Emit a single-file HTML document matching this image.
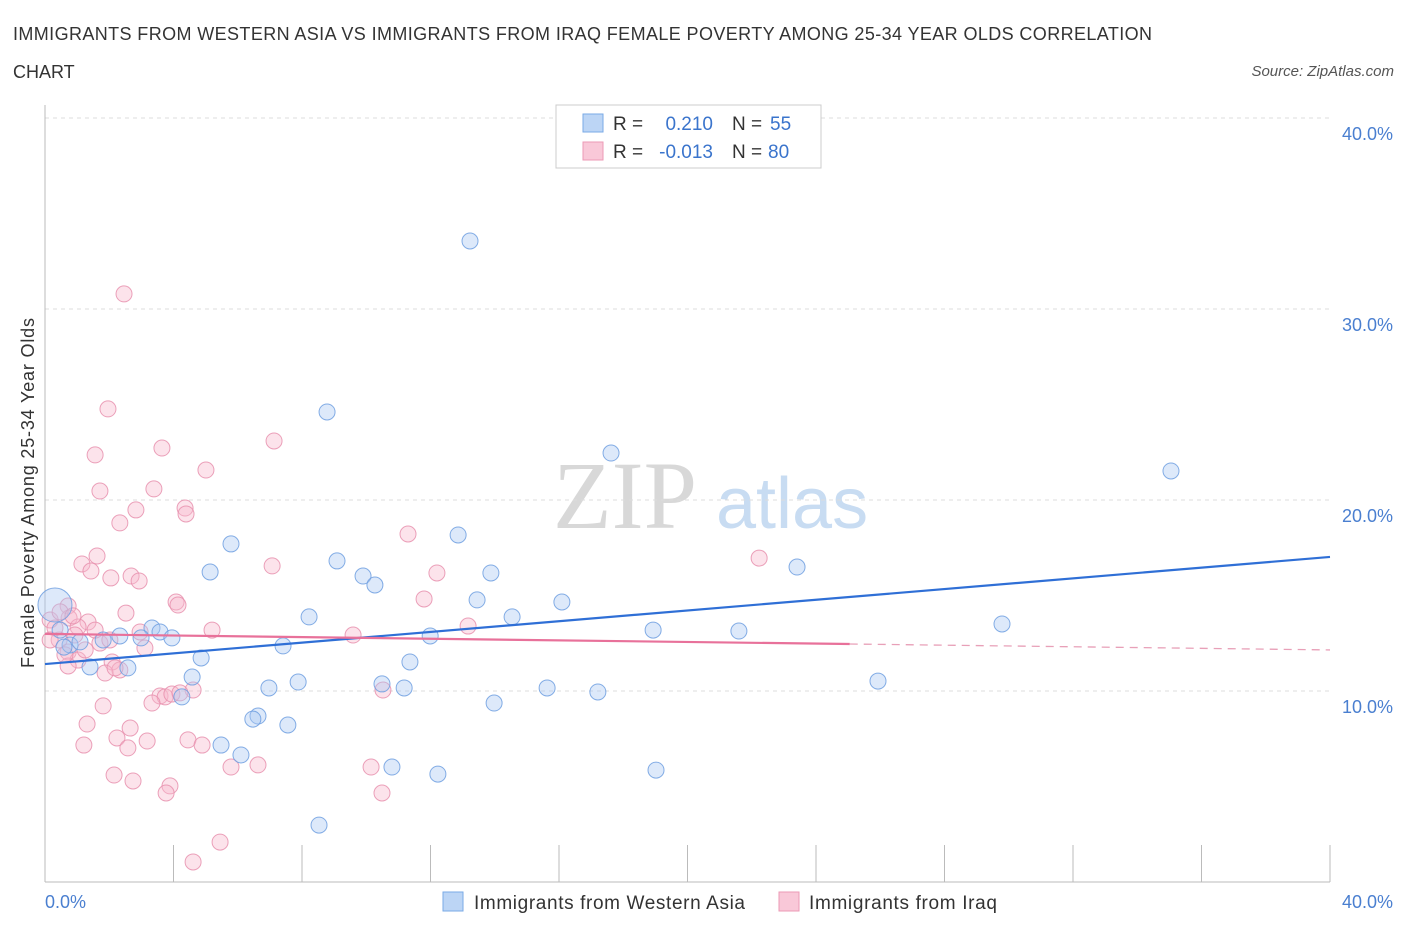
<!DOCTYPE html>
<html><head><meta charset="utf-8"><style>
body{margin:0;background:#fff;font-family:"Liberation Sans",sans-serif;}
svg{display:block}
</style></head><body>
<svg id="chart" width="1406" height="930" xmlns="http://www.w3.org/2000/svg">
<text x="13" y="40" font-size="18" fill="#333" textLength="1139" lengthAdjust="spacing">IMMIGRANTS FROM WESTERN ASIA VS IMMIGRANTS FROM IRAQ FEMALE POVERTY AMONG 25-34 YEAR OLDS CORRELATION</text>
<text x="13" y="78" font-size="18" fill="#333">CHART</text>
<text x="1394" y="76" font-size="15" fill="#555" font-style="italic" text-anchor="end">Source: ZipAtlas.com</text>
<g>
<text x="553" y="528" font-size="96" font-family="Liberation Serif,serif" fill="#d8d8d8">ZIP</text>
<text x="716" y="528" font-size="72" fill="#c8dcf2">atlas</text>
</g>
<g id="grid"></g>
<g id="axes"></g>
<g id="trends"></g>
<g id="pts"></g>
<text x="28" y="493" font-size="18" fill="#333" transform="rotate(-90 28 493)" text-anchor="middle" dy="6" textLength="350" lengthAdjust="spacing">Female Poverty Among 25-34 Year Olds</text>
<text x="45" y="908" font-size="18" fill="#4a7fd0">0.0%</text>
<text x="1393" y="908" font-size="18" fill="#4a7fd0" text-anchor="end">40.0%</text>
<g>
<rect x="556" y="105" width="265" height="63" fill="#fff" stroke="#ccc"/>
<rect x="583" y="114" width="20" height="18" fill="#bcd5f5" stroke="#7aaae6"/>
<rect x="583" y="142" width="20" height="18" fill="#f9c8d8" stroke="#ec9ab6"/>
<text x="613" y="130" font-size="19" fill="#333">R = </text><text x="713" y="130" font-size="19" fill="#3a74cc" text-anchor="end">0.210</text>
<text x="732" y="130" font-size="19" fill="#333">N = </text><text x="770" y="130" font-size="19" fill="#3a74cc">55</text>
<text x="613" y="158" font-size="19" fill="#333">R = </text><text x="713" y="158" font-size="19" fill="#3a74cc" text-anchor="end">-0.013</text>
<text x="732" y="158" font-size="19" fill="#333">N = </text><text x="768" y="158" font-size="19" fill="#3a74cc">80</text>
</g>
<g>
<rect x="443" y="892" width="20" height="19" fill="#bcd5f5" stroke="#7aaae6"/>
<text x="474" y="909" font-size="19" fill="#333" textLength="271" lengthAdjust="spacing">Immigrants from Western Asia</text>
<rect x="779" y="892" width="20" height="19" fill="#f9c8d8" stroke="#ec9ab6"/>
<text x="809" y="909" font-size="19" fill="#333" textLength="188" lengthAdjust="spacing">Immigrants from Iraq</text>
</g>
</svg>
<script>
const yTicks=[10,20,30,40];
const yTickLabels=["10.0%","20.0%","30.0%","40.0%"];
const blueX=[13.23,8.78,17.62,35.05,12.86,5.79,9.09,23.41,5.14,13.88,9.90,10.27,13.45,16.09,8.22,14.54,29.79,18.93,21.60,3.33,3.58,3.95,2.33,1.81,0.78,1.09,11.99,7.41,4.86,11.36,1.40,2.58,4.58,7.88,10.49,6.97,11.18,15.63,17.21,25.93,4.26,13.98,6.63,6.47,7.56,5.48,6.10,10.80,12.23,19.02,8.53,0.31,0.47,2.99,0.59];
const blueY=[33.56,24.61,22.46,21.52,18.17,17.70,16.81,16.49,16.23,16.18,16.02,15.55,14.77,14.66,13.88,13.88,13.51,13.19,13.14,13.30,13.09,12.78,12.88,12.67,12.41,12.57,12.88,12.36,11.73,11.52,11.26,11.21,10.73,10.47,10.37,10.16,10.16,10.16,9.95,10.52,9.69,9.37,8.69,8.53,8.22,7.17,6.65,6.02,5.65,5.86,2.98,14.50,13.19,12.78,12.30];
const blueR=[8,8,8,8,8,8,8,8,8,8,8,8,8,8,8,8,8,8,8,8,8,8,8,8,8,8,8,8,8,8,8,8,8,8,8,8,8,8,8,8,8,8,8,8,8,8,8,8,8,8,8,17,8,8,8];
const pinkX=[2.46,1.96,7.13,1.56,3.64,5.01,1.71,3.39,2.83,2.33,4.36,4.39,11.30,1.62,22.23,1.15,1.43,7.07,2.05,2.68,2.93,12.20,11.80,4.08,4.14,0.72,2.52,0.75,1.34,1.03,5.20,13.17,9.59,0.44,3.11,1.71,0.72,1.03,2.09,2.33,0.72,1.87,3.58,3.74,3.95,4.61,3.33,10.52,4.20,1.81,1.31,2.65,2.24,3.18,4.45,1.21,4.89,2.58,5.79,6.63,10.15,2.15,2.74,3.89,3.77,10.49,5.45,4.61,0.16,0.31,0.47,0.16,0.62,0.93,1.56,1.25,2.02,2.96,2.18,0.87];
const pinkY=[30.79,24.77,23.09,22.36,22.72,21.57,20.47,20.58,19.48,18.80,19.58,19.27,18.22,17.07,16.96,16.65,16.28,16.55,15.92,16.02,15.76,16.18,14.82,14.66,14.50,14.45,14.08,13.82,13.61,13.35,13.19,13.40,12.93,12.67,12.25,12.51,12.04,11.62,11.52,11.10,11.31,10.94,9.74,9.69,9.84,10.05,9.37,10.05,9.90,9.22,8.27,8.06,7.54,7.38,7.44,7.17,7.17,7.02,6.02,6.13,6.02,5.60,5.29,5.03,4.66,4.66,2.09,1.05,13.72,13.30,14.14,12.67,11.89,12.93,13.19,12.15,12.67,13.09,11.21,13.93];
const blueTrendX=[0,40];
const blueTrendY=[11.41,17.02];
const pinkTrendX=[0,25.05,40];
const pinkTrendY=[12.99,12.46,12.15];

const NS="http://www.w3.org/2000/svg";
const X0=45,X1=1330,Y0=882,YTOP=118;
function sx(v){return X0+(X1-X0)*v/40;}
function sy(v){return Y0-(Y0-YTOP)*v/40;}
function mk(tag,attrs,parent){const e=document.createElementNS(NS,tag);for(const k in attrs)e.setAttribute(k,attrs[k]);parent.appendChild(e);return e;}
const grid=document.getElementById('grid'),axes=document.getElementById('axes'),tr=document.getElementById('trends'),pts=document.getElementById('pts');
yTicks.forEach((t,i)=>{
  const l=mk('line',{x1:X0,x2:X1,y1:sy(t),y2:sy(t),stroke:'#dcdcdc','stroke-dasharray':'4,4'},grid);
  
  
  const tx=mk('text',{x:1393,y:sy(t)+22,'font-size':18,fill:'#4a7fd0','text-anchor':'end'},grid);
  tx.textContent=yTickLabels[i];
  
  
});
const la=mk('line',{x1:X0,x2:X0,y1:105,y2:Y0,stroke:'#bbb'},axes);


const lb=mk('line',{x1:X0,x2:X1,y1:Y0,y2:Y0,stroke:'#bbb'},axes);


for(let i=0;i<=10;i++){
  const t=mk('line',{x1:sx(i*4),x2:sx(i*4),y1:845,y2:Y0,stroke:'#bbb'},axes);
  
  
}
function drawPts(xs,ys,fill,stroke,name,rs){
  xs.forEach((v,i)=>{
    const c=mk('circle',{cx:sx(v),cy:sy(ys[i]),r:rs?rs[i]:8,fill:fill,'fill-opacity':0.4,stroke:stroke,'stroke-width':1,'stroke-opacity':0.85},pts);
    
    
  });
}
drawPts(pinkX,pinkY,'#f7b8cd','#e890ae','iraq-point');
drawPts(blueX,blueY,'#a9c9f2','#6f9fe0','western-asia-point',blueR);
const bt=mk('line',{x1:sx(blueTrendX[0]),y1:sy(blueTrendY[0]),x2:sx(blueTrendX[1]),y2:sy(blueTrendY[1]),stroke:'#2f6fd6','stroke-width':2.2},tr);


const pt=mk('line',{x1:sx(pinkTrendX[0]),y1:sy(pinkTrendY[0]),x2:sx(pinkTrendX[1]),y2:sy(pinkTrendY[1]),stroke:'#e8719a','stroke-width':2.2},tr);


const pd=mk('line',{x1:sx(pinkTrendX[1]),y1:sy(pinkTrendY[1]),x2:sx(pinkTrendX[2]),y2:sy(pinkTrendY[2]),stroke:'#e8a0b8','stroke-width':1.3,'stroke-dasharray':'8,6'},tr);


document.getElementById('chart').appendChild(tr);
</script>
</body></html>
